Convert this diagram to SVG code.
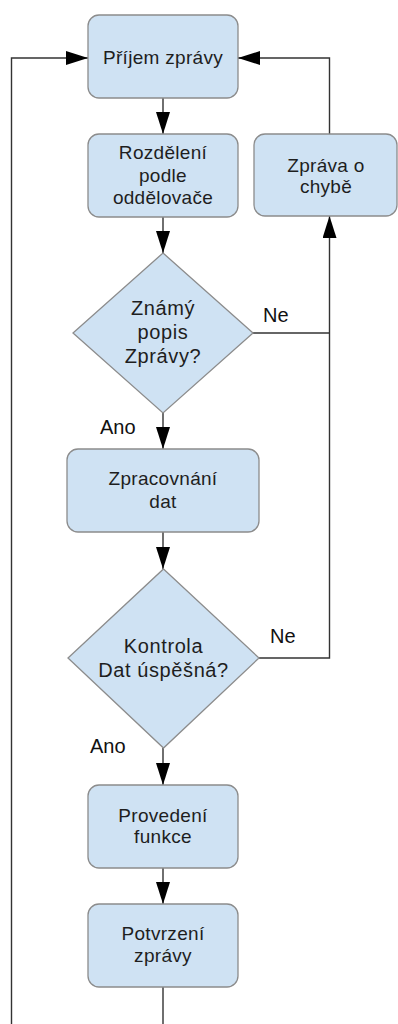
<svg xmlns="http://www.w3.org/2000/svg" width="398" height="1024" viewBox="0 0 398 1024">
<style>
.box{fill:#cfe2f3;stroke:#8c8c8c;stroke-width:1.3}
.t{font-family:"Liberation Sans",Arial,sans-serif;font-size:19px;fill:#1e1e1e;text-anchor:middle;letter-spacing:0.3px}
.dt{font-family:"Liberation Sans",Arial,sans-serif;font-size:20px;fill:#1e1e1e;text-anchor:middle;letter-spacing:0.6px}
.lbl{font-family:"Liberation Sans",Arial,sans-serif;font-size:20px;fill:#111}
.c{fill:none;stroke:#333;stroke-width:1.4}
</style>
<defs>
<marker id="ah" markerUnits="userSpaceOnUse" markerWidth="22" markerHeight="14" refX="22" refY="7" orient="auto">
<path d="M0,0 L22,7 L0,14 z" fill="#000"/>
</marker>
</defs>
<rect width="398" height="1024" fill="#fff"/>
<g id="connectors">
<path class="c" d="M163,98 L163,134" marker-end="url(#ah)"/>
<path class="c" d="M163,217 L163,253" marker-end="url(#ah)"/>
<path class="c" d="M163,413 L163,449" marker-end="url(#ah)"/>
<path class="c" d="M163,532 L163,569" marker-end="url(#ah)"/>
<path class="c" d="M163,748 L163,785" marker-end="url(#ah)"/>
<path class="c" d="M163,868 L163,904" marker-end="url(#ah)"/>
<path class="c" d="M163,987 L163,1030 L11.5,1030 L11.5,58 L88,58" marker-end="url(#ah)"/>
<path class="c" d="M253,333 L329.5,333"/>
<path class="c" d="M259,658 L329.5,658 L329.5,216" marker-end="url(#ah)"/>
<path class="c" d="M329.5,134 L329.5,58 L238,58" marker-end="url(#ah)"/>
<text class="lbl" x="263" y="322">Ne</text>
<text class="lbl" x="100" y="434">Ano</text>
<text class="lbl" x="270" y="643">Ne</text>
<text class="lbl" x="90" y="753">Ano</text>
</g>
<g id="prijem">
<rect class="box" x="88" y="15" width="150" height="83" rx="11"/>
<text class="t" x="163" y="64">Příjem zprávy</text>
</g>
<g id="rozdeleni">
<rect class="box" x="88" y="134" width="150" height="83" rx="11"/>
<text class="t" x="163" y="159">Rozdělení</text>
<text class="t" x="163" y="182">podle</text>
<text class="t" x="163" y="204">oddělovače</text>
</g>
<g id="chyba">
<rect class="box" x="254" y="134" width="143" height="82" rx="11"/>
<text class="t" x="326" y="172">Zpráva o</text>
<text class="t" x="326" y="193">chybě</text>
</g>
<g id="znamy">
<polygon class="box" points="163,253 253,333 163,413 73,333"/>
<text class="dt" x="163" y="315">Známý</text>
<text class="dt" x="163" y="339">popis</text>
<text class="dt" x="163" y="363">Zprávy?</text>
</g>
<g id="zpracovani">
<rect class="box" x="67" y="449" width="192" height="83" rx="11"/>
<text class="t" x="163" y="485">Zpracovnání</text>
<text class="t" x="163" y="508">dat</text>
</g>
<g id="kontrola">
<polygon class="box" points="163.5,569 259,658 163.5,748 68,658"/>
<text class="dt" x="163.5" y="653">Kontrola</text>
<text class="dt" x="163.5" y="677">Dat úspěšná?</text>
</g>
<g id="provedeni">
<rect class="box" x="88" y="785" width="150" height="83" rx="11"/>
<text class="t" x="163" y="822">Provedení</text>
<text class="t" x="163" y="843">funkce</text>
</g>
<g id="potvrzeni">
<rect class="box" x="88" y="904" width="150" height="83" rx="11"/>
<text class="t" x="163" y="940">Potvrzení</text>
<text class="t" x="163" y="962">zprávy</text>
</g>
</svg>
